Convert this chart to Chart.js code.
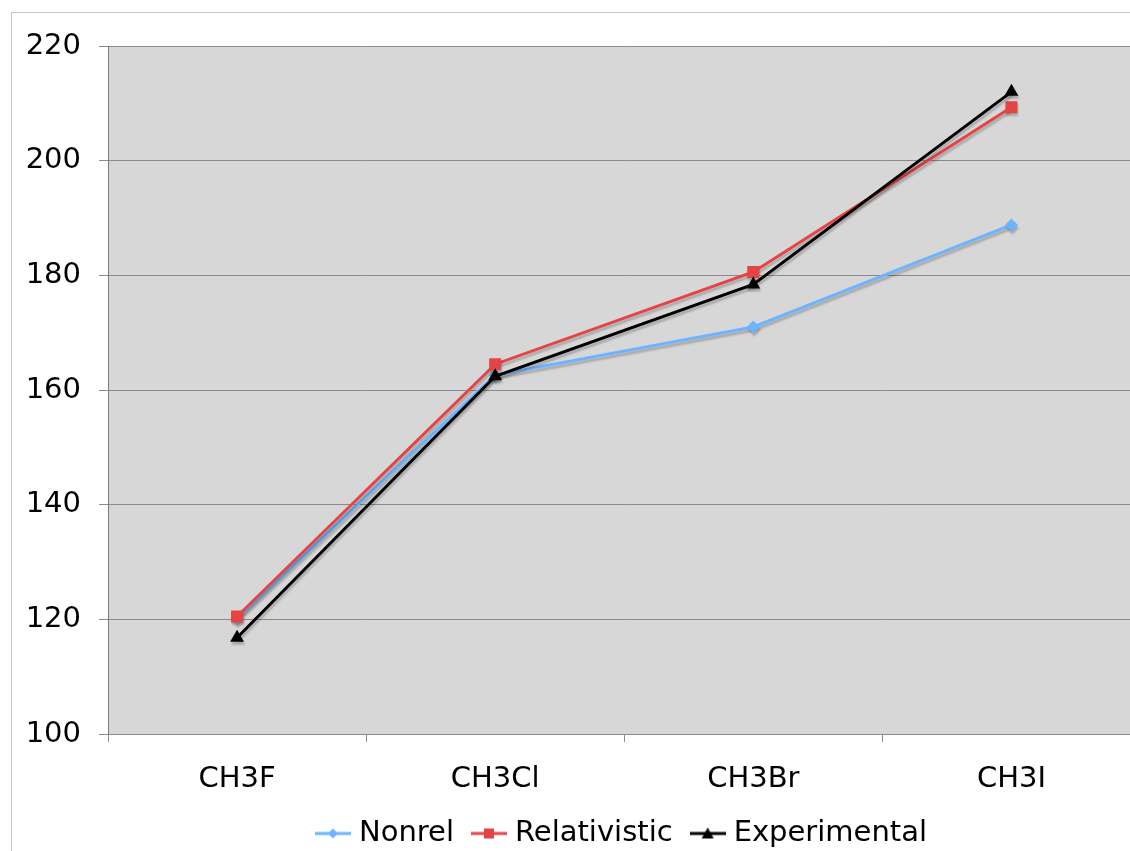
<!DOCTYPE html>
<html>
<head>
<meta charset="utf-8">
<script src="https://cdn.jsdelivr.net/npm/chart.js@4/dist/chart.umd.min.js"></script>
<style>
  html, body { margin: 0; padding: 0; background: #fff; overflow: hidden; }
  #frame { position: absolute; left: 11px; top: 12px; width: 1200px; height: 900px;
           border-left: 1px solid #c4c4c4; border-top: 1px solid #c4c4c4; }
  #chart { position: absolute; left: 0; top: 0; }
</style>
</head>
<body>
<div id="frame"></div>
<canvas id="chart" width="1149" height="858"></canvas>
<script>
// molecules along the x axis
var categories = ["CH3F", "CH3Cl", "CH3Br", "CH3I"];
// series values
var nonrel = [120.2, 162.6, 171.0, 188.8];
var relativistic = [120.5, 164.5, 180.6, 209.3];
var experimental = [116.8, 162.4, 178.4, 212.0];
// y axis ticks
var yTicks = [100, 120, 140, 160, 180, 200, 220];

var FONT = "'DejaVu Sans', Verdana, sans-serif";
var colors = { nonrel: "#6cb4ff", rel: "#e64444", exp: "#000000" };

// little "line + marker" pictures for the legend
function legendSymbol(color, style){
  var c = document.createElement("canvas");
  c.width = 36; c.height = 16;
  var ctx = c.getContext("2d");
  ctx.strokeStyle = color;
  ctx.lineWidth = 3;
  ctx.beginPath();
  ctx.moveTo(0, 8); ctx.lineTo(36, 8);
  ctx.stroke();
  ctx.fillStyle = color;
  ctx.beginPath();
  if (style === "rectRot") {
    ctx.moveTo(18, 3); ctx.lineTo(23, 8); ctx.lineTo(18, 13); ctx.lineTo(13, 8);
  } else if (style === "rect") {
    ctx.rect(13, 3, 10, 10);
  } else {
    ctx.moveTo(18, 2); ctx.lineTo(24, 13); ctx.lineTo(12, 13);
  }
  ctx.closePath();
  ctx.fill();
  return c;
}

// grey plot background and a soft drop shadow under the series
Chart.register({
  id: "plotLook",
  beforeDraw: function(chart){
    var a = chart.chartArea, ctx = chart.ctx;
    ctx.save();
    ctx.fillStyle = "#d7d7d7";
    ctx.fillRect(a.left, a.top, a.right - a.left, a.bottom - a.top);
    ctx.restore();
  },
  beforeDatasetsDraw: function(chart){
    var ctx = chart.ctx;
    ctx.save();
    ctx.shadowColor = "rgba(0,0,0,0.22)";
    ctx.shadowOffsetX = 1;
    ctx.shadowOffsetY = 3;
    ctx.shadowBlur = 2;
  },
  afterDatasetsDraw: function(chart){
    chart.ctx.restore();
  }
});

function series(label, data, color, style, radius, order){
  return {
    label: label,
    data: data,
    borderColor: color,
    backgroundColor: color,
    borderWidth: 3,
    pointStyle: style,
    pointRadius: radius,
    pointHoverRadius: radius,
    pointBorderWidth: 0,
    tension: 0,
    order: order,
    legendSymbol: legendSymbol(color, style)
  };
}

new Chart(document.getElementById("chart"), {
  type: "line",
  data: {
    labels: categories,
    datasets: [
      series("Nonrel", nonrel, colors.nonrel, "rectRot", 6.5, 2),
      series("Relativistic", relativistic, colors.rel, "rect", 8.5, 1),
      series("Experimental", experimental, colors.exp, "triangle", 8, 0)
    ]
  },
  options: {
    responsive: false,
    animation: false,
    events: [],
    layout: { padding: { top: 46, left: 0, right: 1, bottom: 0 } },
    scales: {
      x: {
        offset: true,
        afterFit: function(scale){ scale.height = 61.5; },
        grid: { offset: true, drawOnChartArea: false, drawTicks: true, tickLength: 8, color: "#8a8a8a" },
        border: { color: "#8a8a8a", width: 1 },
        ticks: { color: "#000", padding: 20, font: { family: FONT, size: 29 } }
      },
      y: {
        min: yTicks[0],
        max: yTicks[yTicks.length - 1],
        afterFit: function(scale){ scale.width = 108; },
        afterBuildTicks: function(scale){
          scale.ticks = yTicks.map(function(v){ return { value: v }; });
        },
        grid: { color: "#8a8a8a", tickLength: 9, lineWidth: 1 },
        border: { color: "#7a7a7a", width: 1 },
        ticks: { color: "#000", padding: 18, font: { family: FONT, size: 29 } }
      }
    },
    plugins: {
      tooltip: { enabled: false },
      legend: {
        position: "bottom",
        fullSize: false,
        labels: {
          usePointStyle: true,
          pointStyleWidth: 23,
          padding: 23.5,
          color: "#000",
          font: { family: FONT, size: 29 },
          sort: function(a, b){ return a.datasetIndex - b.datasetIndex; },
          generateLabels: function(chart){
            var items = Chart.defaults.plugins.legend.labels.generateLabels(chart);
            items.forEach(function(it){
              it.pointStyle = chart.data.datasets[it.datasetIndex].legendSymbol;
            });
            return items;
          }
        }
      }
    }
  }
});
</script>
</body>
</html>
